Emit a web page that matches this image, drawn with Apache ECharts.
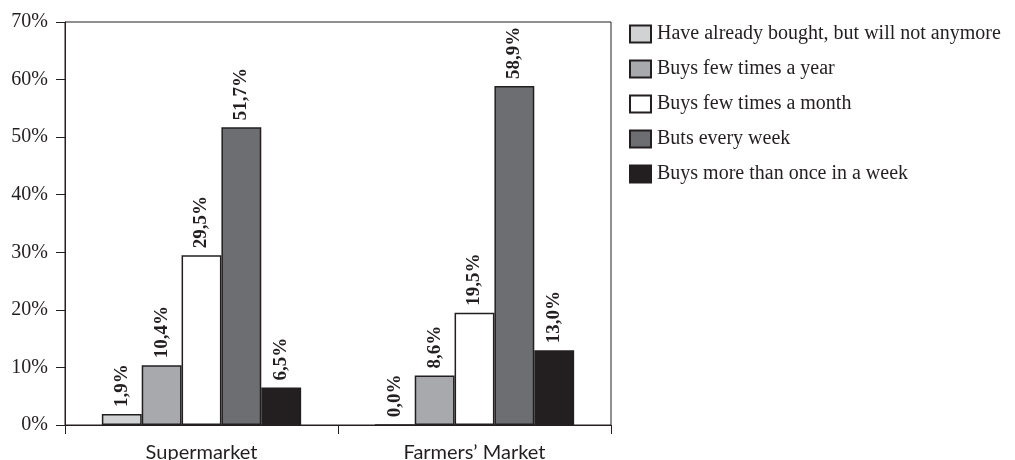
<!DOCTYPE html>
<html>
<head>
<meta charset="utf-8">
<script src="https://cdn.jsdelivr.net/npm/echarts@6/dist/echarts.min.js"></script>
<style>
  html, body { margin: 0; padding: 0; background: #fff; }
  #chart { width: 1015px; height: 460px; }
</style>
</head>
<body>
<div id="chart"></div>
<script>
// Purchase frequency by place of purchase (share of respondents, %)
const categories = ['Supermarket', 'Farmers\u2019 Market'];
const seriesNames = [
  'Have already bought, but will not anymore',
  'Buys few times a year',
  'Buys few times a month',
  'Buts every week',
  'Buys more than once in a week'
];
const alreadyBought = [1.9, 0.0];
const fewTimesYear = [10.4, 8.6];
const fewTimesMonth = [29.5, 19.5];
const everyWeek = [51.7, 58.9];
const moreThanWeekly = [6.5, 13.0];
const yTicks = [0, 10, 20, 30, 40, 50, 60, 70];

const seriesValues = [alreadyBought, fewTimesYear, fewTimesMonth, everyWeek, moreThanWeekly];
const fills = ['#d1d2d4', '#a7a9ac', '#ffffff', '#6d6e71', '#231f20'];
const ink = '#231f20';
const serif = '"Liberation Serif", "Times New Roman", serif';

const chart = echarts.init(document.getElementById('chart'), null, { renderer: 'canvas' });

chart.setOption({
  animation: false,
  backgroundColor: '#ffffff',
  grid: {
    left: 65, right: 404, top: 22, bottom: 35,
    outerBoundsMode: 'none',
    containLabel: false,
    show: true, borderColor: ink, borderWidth: 1, backgroundColor: 'transparent'
  },
  legend: {
    orient: 'vertical',
    left: 624, top: 19,
    itemWidth: 21, itemHeight: 17, itemGap: 15,
    icon: 'rect',
    data: seriesNames,
    textStyle: { fontFamily: serif, fontSize: 20, color: ink, padding: [0, 0, 0, 1] }
  },
  xAxis: {
    type: 'category',
    data: categories,
    axisLine: { lineStyle: { color: ink, width: 1 } },
    axisTick: { show: true, length: 9, lineStyle: { color: ink } },
    axisLabel: { fontFamily: 'Lato, "Open Sans", sans-serif', fontSize: 20, color: ink, margin: 18 },
    splitLine: { show: false }
  },
  yAxis: {
    type: 'value',
    min: yTicks[0], max: yTicks[yTicks.length - 1], interval: 10,
    axisLine: { show: true, lineStyle: { color: ink, width: 1 } },
    axisTick: { show: true, length: 9, lineStyle: { color: ink } },
    axisLabel: { fontFamily: serif, fontSize: 20, color: ink, margin: 17, formatter: '{value}%' },
    splitLine: { show: false }
  },
  series: seriesNames.map((name, i) => ({
    name: name,
    type: 'bar',
    data: seriesValues[i],
    barGap: '0%',
    barCategoryGap: '27%',
    itemStyle: { color: fills[i], borderColor: ink, borderWidth: 1.5 },
    label: {
      show: true,
      position: 'top',
      rotate: 90,
      align: 'left',
      verticalAlign: 'middle',
      distance: 7,
      fontFamily: serif,
      fontWeight: 'bold',
      fontSize: 19,
      color: ink,
      formatter: p => p.value.toFixed(1).replace('.', ',') + '%'
    }
  }))
});
</script>
</body>
</html>
